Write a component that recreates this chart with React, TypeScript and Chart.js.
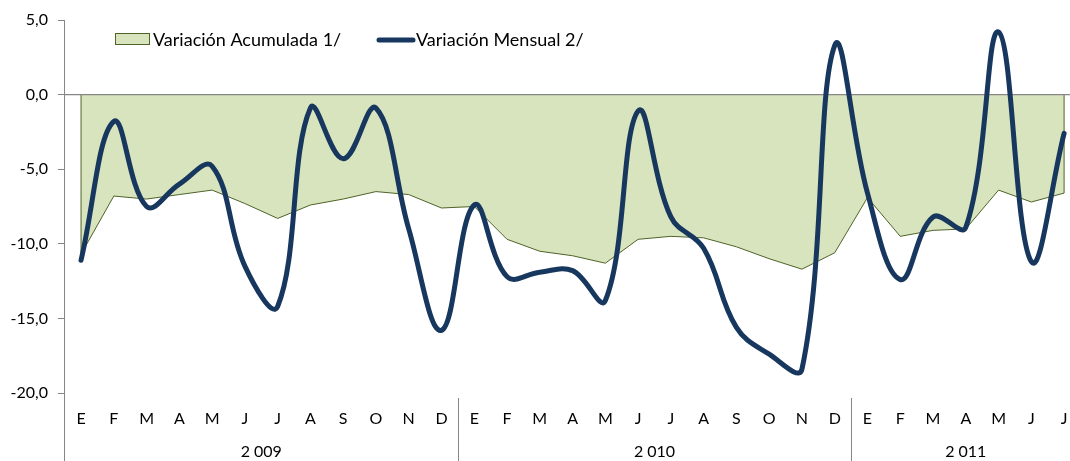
import React, { useEffect, useRef } from "react";
import { Chart, registerables } from "chart.js";

Chart.register(...registerables);

const months: string[] = [
  "E", "F", "M", "A", "M", "J", "J", "A", "S", "O", "N", "D",
  "E", "F", "M", "A", "M", "J", "J", "A", "S", "O", "N", "D",
  "E", "F", "M", "A", "M", "J", "J",
];
const years: string[] = ["2 009", "2 010", "2 011"];
const yearFirstIndex: number[] = [0, 12, 24];
const yearLastIndex: number[] = [11, 23, 30];

const acumulada: number[] = [
  -10.7, -6.8, -7.0, -6.7, -6.4, -7.3, -8.3, -7.4, -7.0, -6.5, -6.7, -7.6,
  -7.5, -9.7, -10.5, -10.8, -11.3, -9.7, -9.5, -9.6, -10.2, -11.0, -11.7, -10.6,
  -6.9, -9.5, -9.1, -9.0, -6.4, -7.2, -6.6,
];
const mensual: number[] = [
  -11.1, -1.8, -7.5, -6.0, -4.8, -11.5, -14.2, -0.9, -4.3, -0.9, -9.0, -15.8,
  -7.4, -12.2, -11.9, -11.8, -13.8, -1.1, -8.2, -10.3, -15.6, -17.4, -18.4, 3.3,
  -6.6, -12.4, -8.2, -8.9, 4.2, -11.2, -2.6,
];
const yTickValues: number[] = [5, 0, -5, -10, -15, -20];
const seriesNames: string[] = ["Variación Acumulada 1/", "Variación Mensual 2/"];

const FONT = "Lato, 'Open Sans', sans-serif";
const AREA_FILL = "#D7E4BD";
const AREA_LINE = "#4F6228";
const NAVY = "#17375E";
const AXIS = "#868686";

const decorations = {
  id: "decorations",
  beforeDatasetDraw(chart: any, args: any) {
    if (args.index !== 1) return;
    const { ctx, chartArea, scales } = chart;
    const x = scales.x;
    const y = scales.y;
    ctx.save();
    ctx.strokeStyle = AREA_LINE;
    ctx.lineWidth = 1;
    const x0 = x.getPixelForValue(0);
    const xn = x.getPixelForValue(acumulada.length - 1);
    const yz = y.getPixelForValue(0);
    ctx.beginPath();
    ctx.moveTo(x0, yz);
    ctx.lineTo(x0, y.getPixelForValue(acumulada[0]));
    ctx.moveTo(xn, yz);
    ctx.lineTo(xn, y.getPixelForValue(acumulada[acumulada.length - 1]));
    ctx.stroke();
    ctx.strokeStyle = AXIS;
    ctx.lineWidth = 1.3;
    ctx.beginPath();
    ctx.moveTo(chartArea.left, yz);
    ctx.lineTo(chartArea.right, yz);
    ctx.stroke();
    ctx.restore();
  },
  afterDraw(chart: any) {
    const { ctx, chartArea, scales } = chart;
    const x = scales.x;
    const H = chart.height;
    ctx.save();
    ctx.strokeStyle = AXIS;
    ctx.lineWidth = 1;
    ctx.beginPath();
    ctx.moveTo(chartArea.left + 0.5, chartArea.bottom);
    ctx.lineTo(chartArea.left + 0.5, H);
    for (let i = 0; i < yearLastIndex.length - 1; i++) {
      const sx = Math.round(x.getPixelForValue(yearLastIndex[i] + 0.5)) + 0.5;
      ctx.moveTo(sx, chartArea.bottom + 5);
      ctx.lineTo(sx, H);
    }
    ctx.stroke();
    ctx.fillStyle = "#000";
    ctx.font = `16px ${FONT}`;
    ctx.textAlign = "center";
    ctx.textBaseline = "middle";
    for (let i = 0; i < years.length; i++) {
      const cx = (x.getPixelForValue(yearFirstIndex[i] - 0.5) + x.getPixelForValue(yearLastIndex[i] + 0.5)) / 2;
      ctx.fillText(years[i], cx, 452);
    }
    ctx.font = `18px ${FONT}`;
    ctx.textAlign = "left";
    ctx.fillStyle = AREA_FILL;
    ctx.fillRect(115.5, 33.5, 34, 11);
    ctx.strokeStyle = AREA_LINE;
    ctx.lineWidth = 1;
    ctx.strokeRect(115.5, 33.5, 34, 11);
    ctx.fillStyle = "#000";
    ctx.fillText(seriesNames[0], 153, 40);
    ctx.strokeStyle = NAVY;
    ctx.lineWidth = 5;
    ctx.lineCap = "round";
    ctx.beginPath();
    ctx.moveTo(379, 40);
    ctx.lineTo(413, 40);
    ctx.stroke();
    ctx.fillText(seriesNames[1], 416, 40);
    ctx.restore();
  },
};

export default function App() {
  const canvasRef = useRef<HTMLCanvasElement | null>(null);

  useEffect(() => {
    const canvas = canvasRef.current;
    if (!canvas) return;
    const idx = months.map((_, i) => i);
    const chart = new Chart(canvas, {
      type: "line",
      data: {
        datasets: [
          {
            label: seriesNames[0],
            data: idx.map((i) => ({ x: i, y: acumulada[i] })),
            borderColor: AREA_LINE,
            backgroundColor: AREA_FILL,
            borderWidth: 1,
            fill: "origin",
            tension: 0,
            pointRadius: 0,
            order: 2,
          },
          {
            label: seriesNames[1],
            data: idx.map((i) => ({ x: i, y: mensual[i] })),
            borderColor: NAVY,
            borderWidth: 5,
            fill: false,
            tension: 0.4,
            pointRadius: 0,
            borderCapStyle: "round",
            borderJoinStyle: "round",
            order: 1,
          },
        ],
      },
      options: {
        responsive: false,
        animation: false,
        layout: { padding: { top: 20, right: 0, left: 0, bottom: 0 } },
        plugins: {
          legend: { display: false },
          tooltip: { enabled: false },
        },
        scales: {
          x: {
            type: "linear",
            min: -0.52,
            max: 30.18,
            grid: { display: false, drawTicks: false },
            border: { display: false },
            afterBuildTicks: (scale: any) => {
              scale.ticks = idx.map((i) => ({ value: i }));
            },
            afterFit: (scale: any) => {
              scale.height = 68;
              scale.paddingLeft = 0;
              scale.paddingRight = 0;
            },
            ticks: {
              autoSkip: false,
              maxRotation: 0,
              padding: 16,
              color: "#000",
              font: { family: FONT, size: 16 },
              callback: (v: any) => months[Math.round(Number(v))] ?? "",
            },
          },
          y: {
            min: -20,
            max: 5,
            afterBuildTicks: (scale: any) => {
              scale.ticks = yTickValues.map((v) => ({ value: v }));
            },
            afterFit: (scale: any) => {
              scale.width = 64;
            },
            grid: {
              drawOnChartArea: false,
              drawTicks: true,
              tickLength: 6,
              color: AXIS,
            },
            border: { color: AXIS, width: 1 },
            ticks: {
              padding: 10,
              color: "#000",
              font: { family: FONT, size: 16 },
              callback: (v: any) => Number(v).toFixed(1).replace(".", ","),
            },
          },
        },
      },
      plugins: [decorations],
    });
    return () => chart.destroy();
  }, []);

  return (
    <div style={{ position: "fixed", left: 0, top: 0, width: 1070, height: 461, background: "#fff" }}>
      <canvas ref={canvasRef} width={1070} height={461} style={{ width: 1070, height: 461, display: "block" }} />
    </div>
  );
}
